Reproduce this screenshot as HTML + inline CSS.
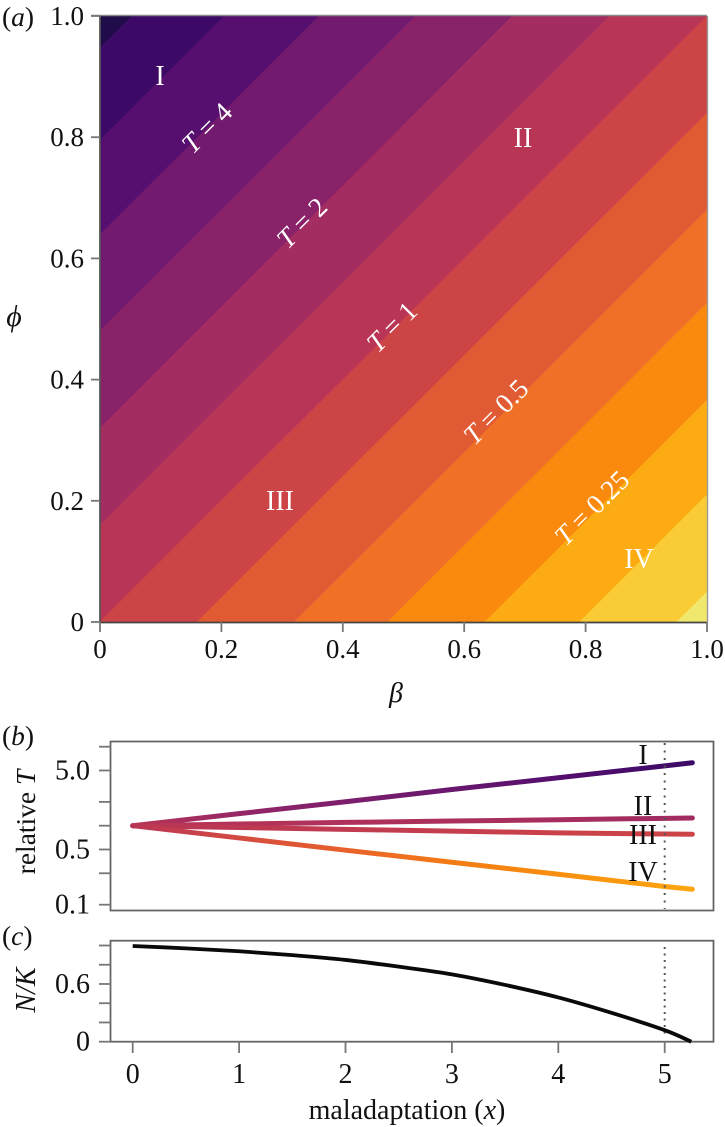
<!DOCTYPE html>
<html lang="en">
<head>
<meta charset="utf-8">
<title>Contour of T over beta and phi, relative T and N/K versus maladaptation</title>
<style>
html,body{margin:0;padding:0;background:#fff;width:725px;height:1127px;overflow:hidden;}
svg{display:block;filter:blur(0.35px);}
text{font-family:"Liberation Serif",serif;fill:#111;}
.white{fill:#fff;}
.it{font-style:italic;}
</style>
</head>
<body>
<svg id="fig" xmlns="http://www.w3.org/2000/svg" width="725" height="1127" viewBox="0 0 725 1127">
  <defs></defs>
  <g id="panel-a">
    <g id="bands"></g>
    <g id="a-axes"></g>
    <text x="2" y="26" font-size="27.5">(<tspan class="it">a</tspan>)</text>
    <text x="14" y="326" font-size="30" text-anchor="middle" class="it">ϕ</text>
    <text x="396" y="702" font-size="28" text-anchor="middle" class="it">β</text>
    <text x="160" y="85" font-size="28" text-anchor="middle" class="white">I</text>
    <text x="523" y="147" font-size="28" text-anchor="middle" class="white">II</text>
    <text x="280" y="510" font-size="28" text-anchor="middle" class="white">III</text>
    <text x="639" y="568" font-size="28" text-anchor="middle" class="white">IV</text>
    <text transform="translate(207,128) rotate(-45)" y="9" font-size="27.5" text-anchor="middle" class="white"><tspan class="it">T</tspan> = 4</text>
    <text transform="translate(302,223) rotate(-45)" y="9" font-size="27.5" text-anchor="middle" class="white"><tspan class="it">T</tspan> = 2</text>
    <text transform="translate(392,327) rotate(-45)" y="9" font-size="27.5" text-anchor="middle" class="white"><tspan class="it">T</tspan> = 1</text>
    <text transform="translate(496,412) rotate(-45)" y="9" font-size="27.5" text-anchor="middle" class="white"><tspan class="it">T</tspan> = 0.5</text>
    <text transform="translate(592,508) rotate(-45)" y="9" font-size="27.5" text-anchor="middle" class="white"><tspan class="it">T</tspan> = 0.25</text>
  </g>
  <g id="panel-b">
    <rect x="110.5" y="741.5" width="603" height="169" fill="none" stroke="#666" stroke-width="1.8"/>
    <g id="b-axes"></g>
    <g id="b-lines"></g>
    <text x="2" y="745" font-size="27.5">(<tspan class="it">b</tspan>)</text>
    <text transform="translate(35,822) rotate(-90)" font-size="27.5" text-anchor="middle">relative <tspan class="it">T</tspan></text>
    <text x="643" y="764" font-size="28" text-anchor="middle">I</text>
    <text x="643" y="815" font-size="28" text-anchor="middle">II</text>
    <text x="643" y="844" font-size="28" text-anchor="middle">III</text>
    <text x="643" y="881" font-size="28" text-anchor="middle">IV</text>
  </g>
  <g id="panel-c">
    <rect x="110.5" y="940.7" width="603" height="101" fill="none" stroke="#666" stroke-width="1.8"/>
    <g id="c-axes"></g>
    <g id="c-lines"></g>
    <text x="2" y="945" font-size="27.5">(<tspan class="it">c</tspan>)</text>
    <text transform="translate(35,990) rotate(-90)" font-size="28" text-anchor="middle" class="it">N/K</text>
    <text x="407" y="1119" font-size="28" text-anchor="middle">maladaptation (<tspan class="it">x</tspan>)</text>
  </g>
</svg>
<script>
// Panel (a): contour band edges, expressed as phi - beta
var contourEdges = [0.947, 0.795, 0.639, 0.480, 0.320, 0.160, 0.000, -0.160, -0.320, -0.474, -0.634, -0.790, -0.950];
var bandColors = ['#1f0c48','#3c0a66','#560f6e','#711a6e','#8a226a','#a32c60','#b93556','#cd4447','#e05a33','#ef7026','#fa8a0e','#fdab12','#f9cb35','#f0e86c'];
var aTicks = [0, 0.2, 0.4, 0.6, 0.8, 1.0];
var aTickLabels = ['0', '0.2', '0.4', '0.6', '0.8', '1.0'];

// Panel (b): relative T
var xSamples = [0, 1, 2, 3, 4, 5, 5.26];
var seriesI = [1, 1.42, 2.01, 2.87, 4.05, 5.72, 6.27];
var seriesII = [1, 1.05, 1.10, 1.145, 1.19, 1.24, 1.25];
var seriesIII = [1, 0.95, 0.90, 0.855, 0.81, 0.785, 0.78];
var seriesIV = [1, 0.70, 0.49, 0.345, 0.243, 0.170, 0.157];
var bTicks = [0.1, 0.25, 0.5, 1, 2, 5, 10];
var bTickLabels = ['0.1', '', '0.5', '', '', '5.0', ''];
var lineLogT = [0.8, 0.6, 0.4, 0.2, 0.09, 0, -0.11, -0.3, -0.5, -0.8];
var lineColors = ['#3c0a66','#560f6e','#711a6e','#8a226a','#a32c60','#b93556','#cd4447','#e85f2c','#f5810f','#fda50f'];

// Panel (c): N/K
var xCurve = [0, 0.5, 1, 1.5, 2, 2.5, 3, 3.5, 4, 4.5, 5, 5.25];
var nkValues = [0.995, 0.97, 0.94, 0.90, 0.85, 0.78, 0.70, 0.59, 0.46, 0.30, 0.12, 0];
var cYTicks = [0, 0.2, 0.4, 0.6, 0.8, 1.0];
var cYTickLabels = ['0', '', '', '0.6', '', ''];
var xTicks = [0, 1, 2, 3, 4, 5];
var dottedAt = [5];

var NS = 'http://www.w3.org/2000/svg';
function mk(tag, parentId) {
  var el = document.createElementNS(NS, tag);
  document.getElementById(parentId).appendChild(el);
  return el;
}
function scaleBeta(v) { return 100 + v * 607; }
function scalePhi(v) { return 622 - v * 606; }
function scaleX(v) { return 132.7 + v * 106.4; }
function scaleLogT(v) { return 825.7 - Math.log10(v) * 79; }
function scaleNK(v) { return 1041.7 - v * 96.2; }

function tickLine(parentId, x1, y1, x2, y2, name) {
  var l = mk('line', parentId);
  l.setAttribute('x1', x1);
  l.setAttribute('y1', y1);
  l.setAttribute('x2', x2);
  l.setAttribute('y2', y2);
  l.setAttribute('stroke', '#777');
  l.setAttribute('stroke-width', '1.8');
  
  
  return l;
}
function tickText(parentId, x, y, anchor, str, name, size) {
  var t = mk('text', parentId);
  t.setAttribute('x', x);
  t.setAttribute('y', y);
  t.setAttribute('text-anchor', anchor);
  t.setAttribute('font-size', size);
  t.textContent = str;
  
  
  return t;
}
// Clip a polygon in data space to the half-plane sign*(phi - beta - c) >= 0
function clipHalf(poly, c, sign) {
  var out = [];
  for (var i = 0; i < poly.length; i++) {
    var p = poly[i], q = poly[(i + 1) % poly.length];
    var dp = sign * (p[1] - p[0] - c), dq = sign * (q[1] - q[0] - c);
    if (dp >= 0) out.push(p);
    if ((dp > 0 && dq < 0) || (dp < 0 && dq > 0)) {
      var f = dp / (dp - dq);
      out.push([p[0] + (q[0] - p[0]) * f, p[1] + (q[1] - p[1]) * f]);
    }
  }
  return out;
}

// Panel (a) bands
(function () {
  for (var i = 0; i < bandColors.length; i++) {
    var poly = [[0, 0], [1, 0], [1, 1], [0, 1]];
    if (i > 0) poly = clipHalf(poly, contourEdges[i - 1], -1);
    if (i < contourEdges.length) poly = clipHalf(poly, contourEdges[i], 1);
    var pts = poly.map(function (c) { return scaleBeta(c[0]) + ',' + scalePhi(c[1]); }).join(' ');
    var p = mk('polygon', 'bands');
    p.setAttribute('points', pts);
    p.setAttribute('fill', bandColors[i]);
    p.setAttribute('stroke', bandColors[i]);
    p.setAttribute('stroke-width', '0.5');
    
    
  }
  var left = mk('line', 'a-axes');
  left.setAttribute('x1', 100);
  left.setAttribute('y1', scalePhi(1));
  left.setAttribute('x2', 100);
  left.setAttribute('y2', scalePhi(0));
  left.setAttribute('stroke', '#555');
  left.setAttribute('stroke-width', '1.8');
  
  
  var bottom = mk('line', 'a-axes');
  bottom.setAttribute('x1', 100);
  bottom.setAttribute('y1', 622.5);
  bottom.setAttribute('x2', 707);
  bottom.setAttribute('y2', 622.5);
  bottom.setAttribute('stroke', '#444');
  bottom.setAttribute('stroke-width', '1.8');
  
  
  var right = mk('line', 'a-axes');
  right.setAttribute('x1', 707.5);
  right.setAttribute('y1', 16);
  right.setAttribute('x2', 707.5);
  right.setAttribute('y2', 622);
  right.setAttribute('stroke', '#999');
  right.setAttribute('stroke-width', '1.4');
  
  
  var top = mk('line', 'a-axes');
  top.setAttribute('x1', 91);
  top.setAttribute('y1', 15.5);
  top.setAttribute('x2', 707);
  top.setAttribute('y2', 15.5);
  top.setAttribute('stroke', '#888');
  top.setAttribute('stroke-width', '1.4');
  
  
  aTicks.forEach(function (v, i) {
    tickLine('a-axes', 91, scalePhi(v), 100, scalePhi(v), 'y-tick');
    tickLine('a-axes', scaleBeta(v), 622, scaleBeta(v), 632, 'x-tick');
    tickText('a-axes', 84, scalePhi(v) + 9, 'end', aTickLabels[i], 'y-tick-label', 27);
    tickText('a-axes', scaleBeta(v), 658, 'middle', aTickLabels[i], 'x-tick-label', 27);
  });
})();

// Panel (b) axis and lines
function hex(h) {
  return [parseInt(h.substr(1, 2), 16), parseInt(h.substr(3, 2), 16), parseInt(h.substr(5, 2), 16)];
}
function colorFor(logT) {
  for (var i = 0; i < lineLogT.length - 1; i++) {
    if (logT <= lineLogT[i] && logT >= lineLogT[i + 1]) {
      var f = (lineLogT[i] - logT) / (lineLogT[i] - lineLogT[i + 1]);
      var a = hex(lineColors[i]), b = hex(lineColors[i + 1]);
      return 'rgb(' + a.map(function (c, k) { return Math.round(c + (b[k] - c) * f); }).join(',') + ')';
    }
  }
  return logT > 0 ? lineColors[0] : lineColors[lineColors.length - 1];
}
function drawRelativeLine(values, id, name) {
  var defs = document.querySelector('#fig defs');
  var grad = document.createElementNS(NS, 'linearGradient');
  grad.setAttribute('id', id);
  grad.setAttribute('gradientUnits', 'userSpaceOnUse');
  var x0 = scaleX(xSamples[0]), x1 = scaleX(xSamples[xSamples.length - 1]);
  grad.setAttribute('x1', x0);
  grad.setAttribute('y1', 0);
  grad.setAttribute('x2', x1);
  grad.setAttribute('y2', 0);
  values.forEach(function (v, i) {
    var s = document.createElementNS(NS, 'stop');
    s.setAttribute('offset', (scaleX(xSamples[i]) - x0) / (x1 - x0));
    s.setAttribute('stop-color', colorFor(Math.log10(v)));
    grad.appendChild(s);
  });
  defs.appendChild(grad);
  var pl = mk('polyline', 'b-lines');
  pl.setAttribute('points', values.map(function (v, i) { return scaleX(xSamples[i]) + ',' + scaleLogT(v); }).join(' '));
  pl.setAttribute('fill', 'none');
  pl.setAttribute('stroke', 'url(#' + id + ')');
  pl.setAttribute('stroke-width', '5');
  pl.setAttribute('stroke-linecap', 'round');
  pl.setAttribute('stroke-linejoin', 'round');
  
  
}
bTicks.forEach(function (v, i) {
  tickLine('b-axes', 99, scaleLogT(v), 110.5, scaleLogT(v), 'y-tick');
  if (bTickLabels[i]) tickText('b-axes', 90, scaleLogT(v) + 9, 'end', bTickLabels[i], 'y-tick-label', 28);
});
drawRelativeLine(seriesI, 'grad-i', 'line-i');
drawRelativeLine(seriesII, 'grad-ii', 'line-ii');
drawRelativeLine(seriesIII, 'grad-iii', 'line-iii');
drawRelativeLine(seriesIV, 'grad-iv', 'line-iv');
dottedAt.forEach(function (v) {
  var d = mk('line', 'b-lines');
  d.setAttribute('x1', scaleX(v));
  d.setAttribute('y1', 743);
  d.setAttribute('x2', scaleX(v));
  d.setAttribute('y2', 909);
  d.setAttribute('stroke', '#555');
  d.setAttribute('stroke-width', '2');
  d.setAttribute('stroke-dasharray', '2 5.5');
  
  
});

// Panel (c) axes and curve
cYTicks.forEach(function (v, i) {
  tickLine('c-axes', 99, scaleNK(v), 110.5, scaleNK(v), 'y-tick');
  if (cYTickLabels[i]) tickText('c-axes', 90, scaleNK(v) + 9, 'end', cYTickLabels[i], 'y-tick-label', 28);
});
xTicks.forEach(function (v) {
  tickLine('c-axes', scaleX(v), 1041.7, scaleX(v), 1053, 'x-tick');
  tickText('c-axes', scaleX(v), 1083, 'middle', String(v), 'x-tick-label', 28);
});
dottedAt.forEach(function (v) {
  var d = mk('line', 'c-lines');
  d.setAttribute('x1', scaleX(v));
  d.setAttribute('y1', 947);
  d.setAttribute('x2', scaleX(v));
  d.setAttribute('y2', 1037);
  d.setAttribute('stroke', '#555');
  d.setAttribute('stroke-width', '2');
  d.setAttribute('stroke-dasharray', '2 4.5');
  
  
});
(function () {
  var pts = nkValues.map(function (v, i) { return [scaleX(xCurve[i]), scaleNK(v)]; });
  var dStr = 'M' + pts[0][0] + ' ' + pts[0][1];
  for (var i = 0; i < pts.length - 1; i++) {
    var p0 = pts[Math.max(i - 1, 0)], p1 = pts[i], p2 = pts[i + 1], p3 = pts[Math.min(i + 2, pts.length - 1)];
    dStr += ' C' + (p1[0] + (p2[0] - p0[0]) / 6) + ' ' + (p1[1] + (p2[1] - p0[1]) / 6) + ' ' +
      (p2[0] - (p3[0] - p1[0]) / 6) + ' ' + (p2[1] - (p3[1] - p1[1]) / 6) + ' ' + p2[0] + ' ' + p2[1];
  }
  var c = mk('path', 'c-lines');
  c.setAttribute('d', dStr);
  c.setAttribute('fill', 'none');
  c.setAttribute('stroke', '#0a0a0a');
  c.setAttribute('stroke-width', '3.8');
  
  
})();
</script>
</body>
</html>
